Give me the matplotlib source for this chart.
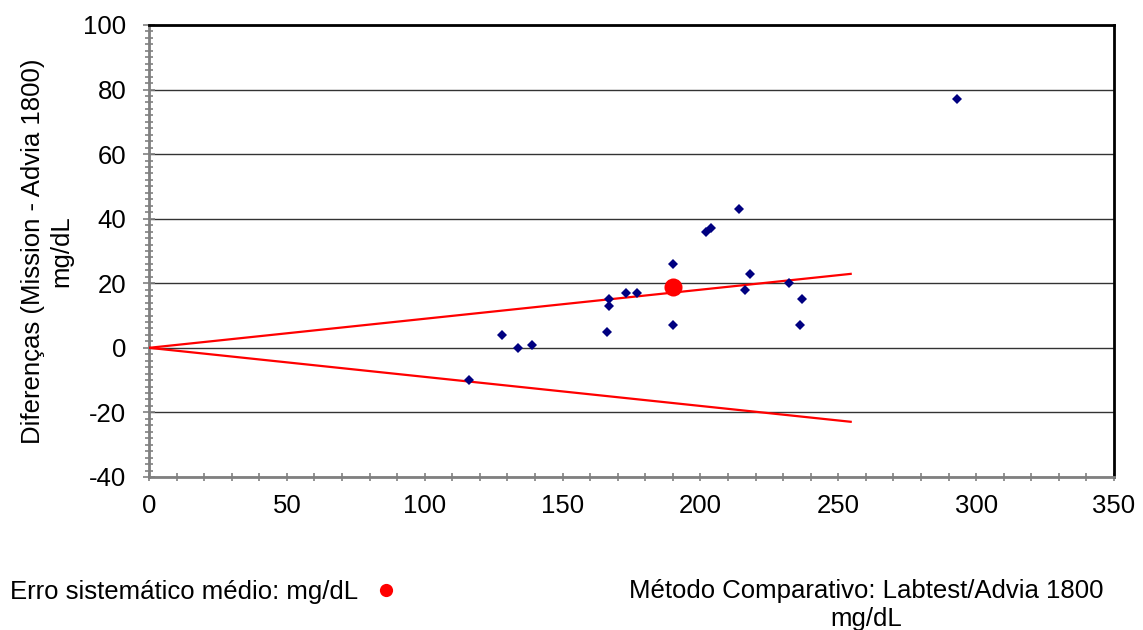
import numpy as np
import matplotlib.pyplot as plt
from matplotlib.ticker import MultipleLocator

plt.rcParams['font.family'] = ['Liberation Sans', 'DejaVu Sans']
plt.rcParams['axes.unicode_minus'] = False

# comparative method value (x) and difference Mission - Advia (y)
x_vals = [116, 128, 134, 139, 166, 167, 167, 173, 177, 190,
          190, 202, 204, 214, 218, 216, 232, 237, 236, 293]
y_vals = [-10, 4, 0, 1, 5, 15, 13, 17, 17, 26,
          7, 36, 37, 43, 23, 18, 20, 15, 7, 77]

# mean systematic error point
mean_x = 190
mean_y = 18.8

# allowable error limits (+/- 9%)
limit_x = [0, 254.5]
limit_pct = 0.09

fs = 18.5

fig = plt.figure(figsize=(11.43, 6.3), dpi=100)
ax = fig.add_axes([0.1304, 0.2429, 0.8442, 0.7175])

ax.set_xlim(0, 350)
ax.set_ylim(-40, 100)

ax.yaxis.set_major_locator(MultipleLocator(20))
ax.yaxis.set_minor_locator(MultipleLocator(2))
ax.xaxis.set_major_locator(MultipleLocator(50))
ax.xaxis.set_minor_locator(MultipleLocator(10))

ax.grid(axis='y', which='major', color='#333333', linewidth=1)
ax.set_axisbelow(True)

for side in ['left', 'bottom']:
    ax.spines[side].set_color('#808080')
    ax.spines[side].set_linewidth(2)
for side in ['top', 'right']:
    ax.spines[side].set_color('black')
    ax.spines[side].set_linewidth(2)

ax.tick_params(axis='both', which='major', direction='inout', length=9,
               width=1.2, color='#808080', labelsize=fs)
ax.tick_params(axis='both', which='minor', direction='inout', length=6,
               width=1.2, color='#808080')
ax.tick_params(axis='y', which='major', pad=12)
ax.tick_params(axis='x', which='major', length=6, pad=9)

lx = np.array(limit_x)
ax.plot(lx, limit_pct * lx, color='red', linewidth=1.6, zorder=3)
ax.plot(lx, -limit_pct * lx, color='red', linewidth=1.6, zorder=3)

ax.plot(x_vals, y_vals, linestyle='none', marker='D', markersize=5.5,
        color='#000080', markeredgewidth=0, zorder=4)
ax.plot([mean_x], [mean_y], linestyle='none', marker='o', markersize=13,
        color='red', markeredgewidth=0, zorder=5)

ax.set_ylabel('Diferenças (Mission - Advia 1800)\nmg/dL', fontsize=fs,
              labelpad=7, linespacing=1.2)

fig.text(10 / 1143, 1 - 592 / 630, 'Erro sistemático médio: mg/dL',
         fontsize=fs, ha='left', va='center')
fig.lines.append(plt.Line2D([386 / 1143], [1 - 590 / 630], marker='o',
                            markersize=9.5, color='red', markeredgewidth=0,
                            transform=fig.transFigure))
fig.text(866 / 1143, 1 - 605 / 630, 'Método Comparativo: Labtest/Advia 1800\nmg/dL',
         fontsize=fs, ha='center', va='center', linespacing=1.2)

plt.savefig('out.png', dpi=100)
